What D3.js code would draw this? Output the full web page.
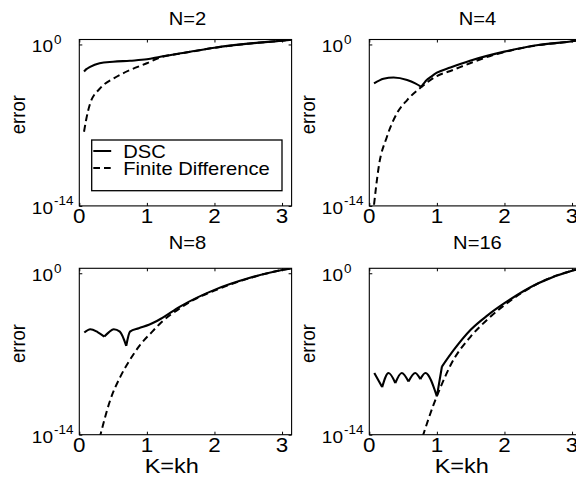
<!DOCTYPE html>
<html>
<head>
<meta charset="utf-8">
<script src="https://cdn.jsdelivr.net/npm/d3@7"></script>
<style>
  body { margin: 0; background: #fff; }
  svg { display: block; }
  text { font-family: "Liberation Sans", Arial, Helvetica, sans-serif; fill: #000; }
</style>
</head>
<body>
<svg id="chart" width="576" height="483"></svg>
<script>
// values: K = kh, and log10(error)
const K_N2_DSC   = [0.07, 0.1, 0.16, 0.3, 0.5, 0.75, 1.0, 1.2, 1.5, 2.0, 2.5, 3.0, 3.1416];
const LOG_N2_DSC = [-2.35, -2.16, -1.94, -1.63, -1.50, -1.41, -1.29, -1.06, -0.77, -0.28, 0.07, 0.33, 0.42];
const K_N2_FD    = [0.07, 0.1, 0.16, 0.31, 0.51, 0.75, 1.0, 1.2, 1.5, 2.0, 2.5, 3.0, 3.1416];
const LOG_N2_FD  = [-7.57, -6.57, -5.13, -3.79, -2.94, -2.22, -1.63, -1.12, -0.79, -0.29, 0.07, 0.33, 0.42];

const K_N4_DSC   = [0.07, 0.21, 0.36, 0.56, 0.68, 0.77, 0.85, 0.9, 1.0, 1.2, 1.49, 2.0, 2.5, 3.0, 3.1416];
const LOG_N4_DSC = [-3.38, -2.97, -2.86, -3.08, -3.37, -3.67, -3.08, -2.86, -2.45, -2.0, -1.41, -0.62, -0.04, 0.28, 0.42];
const K_N4_FD    = [0.07, 0.14, 0.26, 0.41, 0.56, 0.77, 1.0, 1.2, 1.49, 1.79, 2.0, 2.5, 3.0, 3.1416];
const LOG_N4_FD  = [-13.9, -10.59, -8.02, -5.96, -4.82, -3.69, -2.74, -2.3, -1.63, -1.0, -0.66, -0.06, 0.28, 0.42];

const K_N8_DSC   = [0.074, 0.163, 0.27, 0.37, 0.44, 0.51, 0.6, 0.695, 0.75, 0.88, 1.03, 1.2, 1.49, 2.0, 2.5, 3.0, 3.1416];
const LOG_N8_DSC = [-5.14, -4.85, -5.1, -5.49, -5.1, -4.85, -5.06, -6.30, -5.06, -4.76, -4.47, -3.97, -2.89, -1.44, -0.44, 0.29, 0.42];
const K_N8_FD    = [0.3, 0.46, 0.61, 0.75, 0.9, 1.08, 1.2, 1.49, 1.69, 2.0, 2.5, 3.0, 3.1416];
const LOG_N8_FD  = [-14.3, -10.96, -8.94, -7.5, -6.21, -5.06, -4.33, -3.03, -2.31, -1.5, -0.46, 0.28, 0.42];

const K_N16_DSC   = [0.074, 0.19, 0.285, 0.385, 0.48, 0.58, 0.68, 0.755, 0.83, 1.0, 1.075, 1.25, 1.5, 1.75, 2.0, 2.5, 3.0, 3.1416];
const LOG_N16_DSC = [-8.65, -9.87, -8.65, -9.52, -8.65, -9.39, -8.65, -9.18, -8.65, -10.68, -8.09, -6.65, -4.9, -3.65, -2.6, -0.87, 0.22, 0.42];
const K_N16_FD    = [0.79, 0.95, 1.04, 1.12, 1.2, 1.5, 1.75, 2.0, 2.5, 3.0, 3.1416];
const LOG_N16_FD  = [-14.15, -11.41, -10.08, -9.0, -8.0, -5.49, -4.0, -2.76, -0.88, 0.22, 0.42];

// K values where the DSC curve has a cusp / corner
const CUSPS_N4  = [0.77];
const CUSPS_N8  = [0.37, 0.695];
const CUSPS_N16 = [0.19, 0.385, 0.58, 0.755, 1.0, 1.075];

const X_TICKS = [0, 1, 2, 3];
const Y_TICKS = [{ v: 1, exp: '0' }, { v: 1e-14, exp: '-14' }];
const LEGEND = ['DSC', 'Finite Difference'];

const panels = [
  { title: 'N=2',  col: 0, row: 0, kd: K_N2_DSC,  ed: LOG_N2_DSC,  kf: K_N2_FD,  ef: LOG_N2_FD,  cusps: [], legend: true },
  { title: 'N=4',  col: 1, row: 0, kd: K_N4_DSC,  ed: LOG_N4_DSC,  kf: K_N4_FD,  ef: LOG_N4_FD,  cusps: CUSPS_N4 },
  { title: 'N=8',  col: 0, row: 1, kd: K_N8_DSC,  ed: LOG_N8_DSC,  kf: K_N8_FD,  ef: LOG_N8_FD,  cusps: CUSPS_N8 },
  { title: 'N=16', col: 1, row: 1, kd: K_N16_DSC, ed: LOG_N16_DSC, kf: K_N16_FD, ef: LOG_N16_FD, cusps: CUSPS_N16 }
];

const svg = d3.select('#chart');
svg.append('rect').attr('width', 576).attr('height', 483).attr('fill', '#fff');

const colLeft = [79.3, 369.3], rowTop = [39.5, 268.3];
const boxW = 212.3, boxH = 166.4;
const titleBase = [25, 249];
const SX = 1.12; // glyphs in the picture are a little wide

const x = d3.scaleLinear().domain([0, Math.PI]).range([0, boxW]);
const y = d3.scaleLog().domain([1e-14, Math.pow(10, 0.43)]).range([boxH, 0]);
const line = d3.line().x(d => x(d[0])).y(d => y(d[1])).curve(d3.curveMonotoneX);

// split at cusps so each piece is smooth but the joins stay sharp
function curvePath(ks, logs, breaks) {
  const pts = ks.map((k, i) => [k, Math.pow(10, logs[i])]);
  const out = [];
  let cur = [];
  pts.forEach(p => {
    cur.push(p);
    if (breaks.includes(p[0])) { out.push(cur); cur = [p]; }
  });
  if (cur.length > 1) out.push(cur);
  return out.map(line).join('');
}

function stext(g, tx, ty, str, size, anchor, rot) {
  return g.append('text')
    .attr('transform', `translate(${tx},${ty}) scale(${SX},1)` + (rot ? ` rotate(${rot})` : ''))
    .attr('text-anchor', anchor)
    .style('font-size', size + 'px')
    .text(str);
}

panels.forEach((p, i) => {
  const g = svg.append('g').attr('transform', `translate(${colLeft[p.col]},${rowTop[p.row]})`);

  g.append('clipPath').attr('id', 'clip' + i)
    .append('rect').attr('width', boxW).attr('height', boxH);

  const plot = g.append('g').attr('clip-path', `url(#clip${i})`);
  plot.append('path').attr('d', curvePath(p.kf, p.ef, []))
    .attr('fill', 'none').attr('stroke', '#000').attr('stroke-width', 2)
    .attr('stroke-dasharray', '6.7,4');
  plot.append('path').attr('d', curvePath(p.kd, p.ed, p.cusps))
    .attr('fill', 'none').attr('stroke', '#000').attr('stroke-width', 2.1)
    .attr('stroke-linejoin', 'miter');

  // box + inward ticks
  g.append('rect').attr('width', boxW).attr('height', boxH)
    .attr('fill', 'none').attr('stroke', '#000').attr('stroke-width', 1.1);
  const tickAxes = [
    g.append('g').attr('transform', `translate(0,${boxH})`).call(d3.axisBottom(x).tickValues(X_TICKS).tickSize(-3).tickFormat('')),
    g.append('g').call(d3.axisTop(x).tickValues(X_TICKS).tickSize(-3).tickFormat('')),
    g.append('g').call(d3.axisLeft(y).tickValues(Y_TICKS.map(t => t.v)).tickSize(-3).tickFormat('')),
    g.append('g').attr('transform', `translate(${boxW},0)`).call(d3.axisRight(y).tickValues(Y_TICKS.map(t => t.v)).tickSize(-3).tickFormat(''))
  ];
  tickAxes.forEach(a => { a.select('.domain').remove(); a.selectAll('line').attr('stroke', '#000').attr('stroke-width', 1); });

  // x tick labels
  X_TICKS.forEach(t => stext(g, x(t), boxH + 17.5, String(t), 20, 'middle'));

  // y tick labels: 10 with superscript exponent
  Y_TICKS.forEach(t => {
    const tx = g.append('text')
      .attr('transform', `translate(-47.5,${y(t.v) + 8}) scale(${SX},1)`)
      .attr('text-anchor', 'start');
    tx.append('tspan').style('font-size', '17px').text('10');
    tx.append('tspan').attr('dx', 1).attr('dy', -8.5).style('font-size', '12px').text(t.exp);
  });

  // title and axis labels
  stext(svg, colLeft[p.col] + boxW / 2 + 2, titleBase[p.row], p.title, 18, 'middle');
  stext(g, -54, boxH / 2 - 8, 'error', 18.5, 'middle', -90);
  if (p.row === 1) stext(g, 92.5, boxH + 38, 'K=kh', 21, 'middle');

  if (p.legend) {
    const lg = g.append('g').attr('transform', 'translate(12.4,100.5)');
    lg.append('rect').attr('width', 190.3).attr('height', 50.7)
      .attr('fill', '#fff').attr('stroke', '#000').attr('stroke-width', 1.3);
    const rows = [{ y: 11, dash: null }, { y: 28, dash: '6.7,4' }];
    rows.forEach((r, j) => {
      lg.append('line').attr('x1', 1.6).attr('x2', 19.5).attr('y1', r.y).attr('y2', r.y)
        .attr('stroke', '#000').attr('stroke-width', 2).attr('stroke-dasharray', r.dash);
      stext(lg, 31.6, r.y + 6.6, LEGEND[j], 18, 'start');
    });
  }
});
</script>
</body>
</html>
